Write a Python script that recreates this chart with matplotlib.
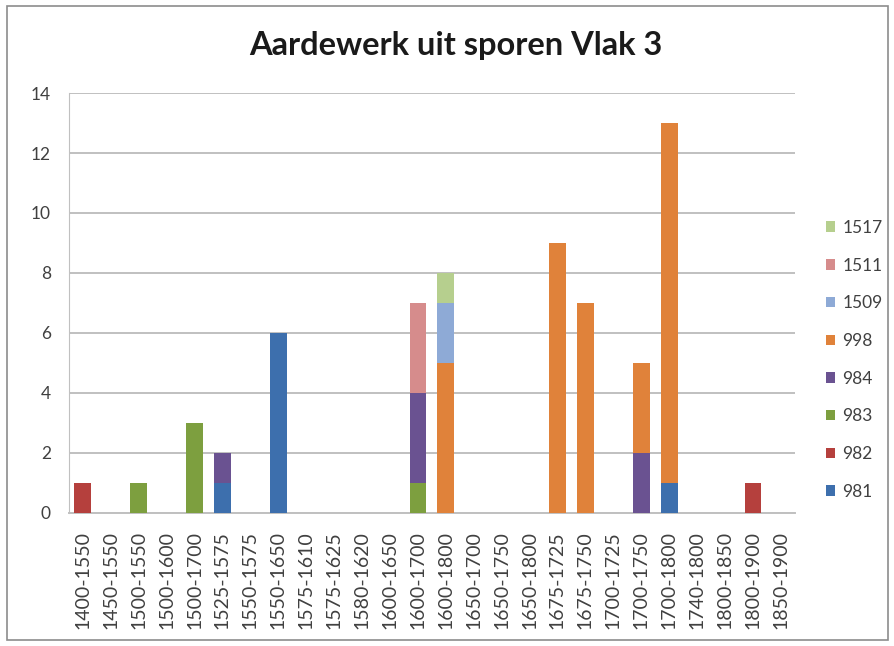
import numpy as np
import matplotlib
matplotlib.use("Agg")
import matplotlib.pyplot as plt
from matplotlib.patches import Rectangle

plt.rcParams['font.family'] = ['Lato', 'DejaVu Sans']

periods = ["1400-1550", "1450-1550", "1500-1550", "1500-1600", "1500-1700",
           "1525-1575", "1550-1575", "1550-1650", "1575-1610", "1575-1625",
           "1580-1620", "1600-1650", "1600-1700", "1600-1800", "1650-1700",
           "1650-1750", "1650-1800", "1675-1725", "1675-1750", "1700-1725",
           "1700-1750", "1700-1800", "1740-1800", "1800-1850", "1800-1900",
           "1850-1900"]

s981 = [0, 0, 0, 0, 0, 1, 0, 6, 0, 0, 0, 0, 0, 0, 0, 0, 0, 0, 0, 0, 0, 1, 0, 0, 0, 0]
s982 = [1, 0, 0, 0, 0, 0, 0, 0, 0, 0, 0, 0, 0, 0, 0, 0, 0, 0, 0, 0, 0, 0, 0, 0, 1, 0]
s983 = [0, 0, 1, 0, 3, 0, 0, 0, 0, 0, 0, 0, 1, 0, 0, 0, 0, 0, 0, 0, 0, 0, 0, 0, 0, 0]
s984 = [0, 0, 0, 0, 0, 1, 0, 0, 0, 0, 0, 0, 3, 0, 0, 0, 0, 0, 0, 0, 2, 0, 0, 0, 0, 0]
s998 = [0, 0, 0, 0, 0, 0, 0, 0, 0, 0, 0, 0, 0, 5, 0, 0, 0, 9, 7, 0, 3, 12, 0, 0, 0, 0]
s1509 = [0, 0, 0, 0, 0, 0, 0, 0, 0, 0, 0, 0, 0, 2, 0, 0, 0, 0, 0, 0, 0, 0, 0, 0, 0, 0]
s1511 = [0, 0, 0, 0, 0, 0, 0, 0, 0, 0, 0, 0, 3, 0, 0, 0, 0, 0, 0, 0, 0, 0, 0, 0, 0, 0]
s1517 = [0, 0, 0, 0, 0, 0, 0, 0, 0, 0, 0, 0, 0, 1, 0, 0, 0, 0, 0, 0, 0, 0, 0, 0, 0, 0]

series = [("981", s981, "#3d6fad"), ("982", s982, "#b5403d"),
          ("983", s983, "#7d9f3f"), ("984", s984, "#6a5291"),
          ("998", s998, "#e0823a"), ("1509", s1509, "#8eaad6"),
          ("1511", s1511, "#d68c8c"), ("1517", s1517, "#b6cf8e")]

fig = plt.figure(figsize=(8.95, 6.46), dpi=100)
# plot area: x 69..795 px, y 93..513 px
ax = fig.add_axes([0.077, 0.206, 0.811, 0.650])

x = np.arange(len(periods))
bottom = np.zeros(len(periods))
for name, vals, col in series:
    vals = np.array(vals, dtype=float)
    ax.bar(x, vals, 0.6, bottom=bottom, color=col, label=name, zorder=3)
    bottom += vals

ax.set_xlim(-0.5, len(periods) - 0.5)
ax.set_ylim(0, 14)
ax.set_yticks(range(0, 15, 2))
ax.set_xticks(x)
ax.set_xticklabels(periods, rotation=90, fontsize=14, color='#404040')
ax.tick_params(axis='y', labelsize=12.5, colors='#404040', length=0, pad=13)
ax.tick_params(axis='x', length=0, pad=13)
ax.grid(axis='y', color='#c0c0c0', linewidth=1.4, zorder=0)
for s in ['top', 'right']:
    ax.spines[s].set_visible(False)
ax.spines['left'].set_color('#c0c0c0')
ax.spines['bottom'].set_color('#c0c0c0')
ax.spines['bottom'].set_linewidth(1.4)

fig.text(0.509, 0.929, "Aardewerk uit sporen Vlak 3", fontsize=23.5,
         fontweight='bold', color='#1a1a1a', ha='center', va='center')

handles, labels = ax.get_legend_handles_labels()
fig.legend(handles[::-1], labels[::-1], loc='center left',
           bbox_to_anchor=(0.915, 0.443), frameon=False, fontsize=12.5,
           labelspacing=1.25, handlelength=0.55, handleheight=0.55,
           handletextpad=0.4, borderaxespad=0, labelcolor='#404040')

fig.patches.append(Rectangle((0.008, 0.009), 0.984, 0.982, transform=fig.transFigure,
                             fill=False, edgecolor='#8c8c8c', linewidth=1.2))

fig.savefig("out.png", dpi=100)
